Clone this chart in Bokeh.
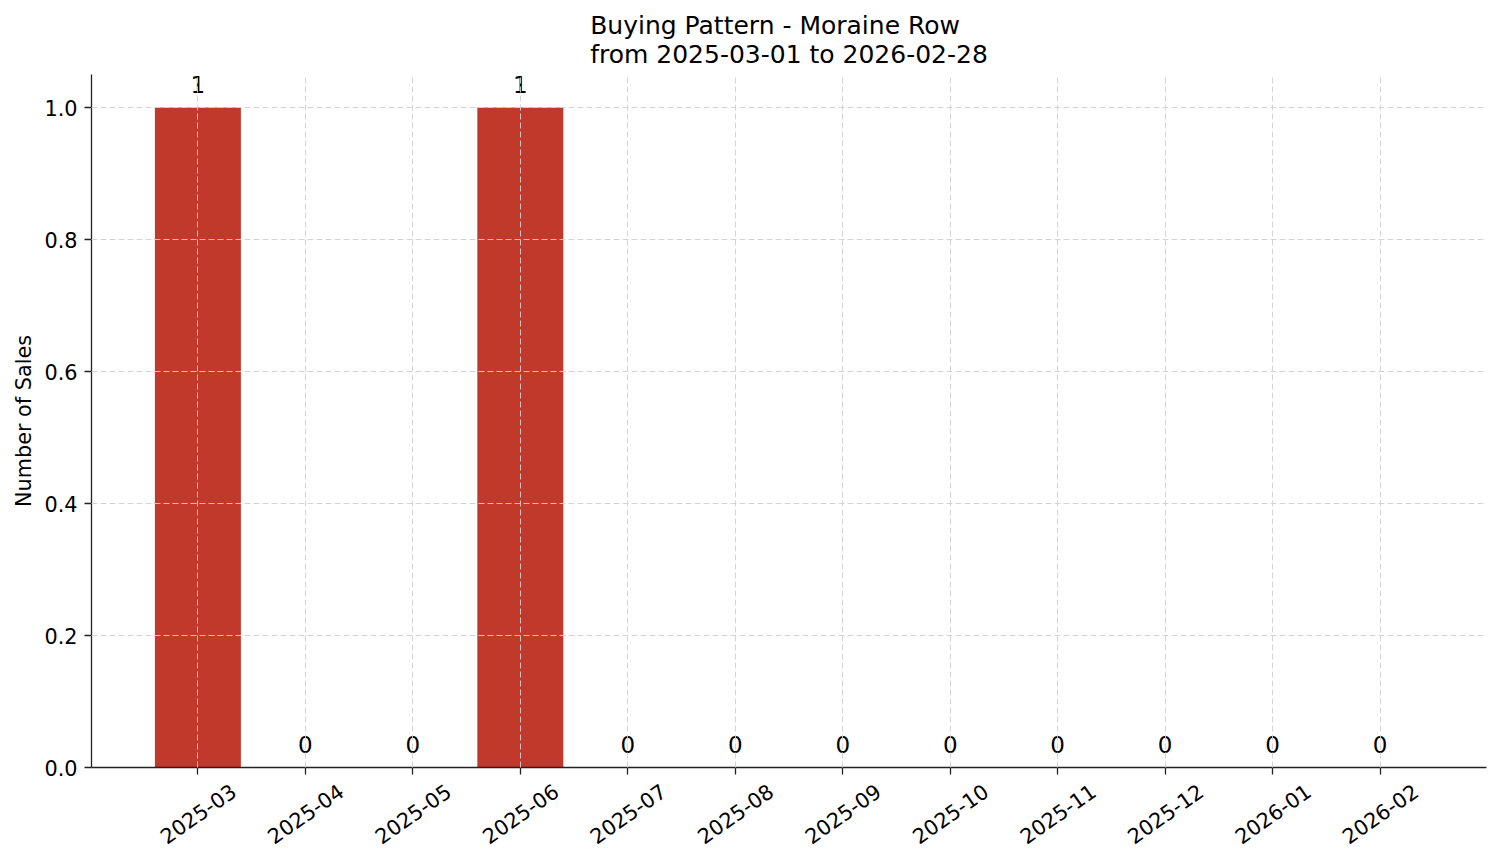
import math
from bokeh.plotting import figure
from bokeh.models import ColumnDataSource, Range1d, FixedTicker, Title, LinearAxis
from bokeh.core.properties import value
from bokeh.embed import file_html
from bokeh.resources import INLINE

months = ["2025-03", "2025-04", "2025-05", "2025-06", "2025-07", "2025-08",
          "2025-09", "2025-10", "2025-11", "2025-12", "2026-01", "2026-02"]
sales = [1, 0, 0, 1, 0, 0, 0, 0, 0, 0, 0, 0]
y_ticks = [0.0, 0.2, 0.4, 0.6, 0.8, 1.0]
title_text = "Buying Pattern - Moraine Row\nfrom 2025-03-01 to 2026-02-28"
y_label = "Number of Sales"

FONT = "DejaVu Sans"
X0, X1 = -0.99, 11.99
Y0, Y1 = 0.0, 1.05
FRAME_W, FRAME_H = 1395, 693
LABEL_PAD = 23 * (Y1 - Y0) / FRAME_H          # gap above bar top
TICK_SHIFT = 35.6 * (X1 - X0) / FRAME_W       # centre rotated labels on ticks

idx = list(range(len(months)))
src = ColumnDataSource(dict(x=idx, top=sales,
                            ly=[v + LABEL_PAD for v in sales],
                            label=[str(v) for v in sales]))

p = figure(width=1495, height=857, output_backend="svg", toolbar_location=None,
           x_range=Range1d(X0, X1), y_range=Range1d(Y0, Y1),
           min_border_left=91, min_border_right=9, min_border_top=74,
           min_border_bottom=90)
p.title = Title(text=title_text, align="center", text_font=FONT,
                text_font_size="25px", text_font_style="normal",
                text_color="#000000", standoff=12, text_line_height=1.0)

p.vbar(x="x", top="top", width=0.8, bottom=0, source=src,
       fill_color="#c0392b", line_color=None)

p.text(x="x", y="ly", text="label", source=src, text_align="center",
       text_baseline="alphabetic",
       text_font=value(FONT), text_font_size="23px", text_color="#000000")

# main x axis: line + tick marks only (ticks drawn as minor ticks, no labels)
xa = p.below[0]
xa.ticker = FixedTicker(ticks=[], minor_ticks=idx)
xa.major_label_standoff = 0
xa.axis_line_color = "#222222"
xa.axis_line_width = 1.3
xa.major_tick_line_color = None
xa.minor_tick_line_color = "#222222"
xa.minor_tick_line_width = 1.3
xa.minor_tick_out = 7
xa.minor_tick_in = 0

# label axis: shifted so rotated labels are centred on the ticks
p.extra_x_ranges = {"lab": Range1d(X0 - TICK_SHIFT, X1 - TICK_SHIFT)}
xl = LinearAxis(x_range_name="lab", ticker=FixedTicker(ticks=idx),
                major_label_overrides={i: m for i, m in enumerate(months)},
                major_label_orientation=math.radians(35),
                axis_line_color=None, major_tick_line_color=None,
                minor_tick_line_color=None,
                major_label_text_font=FONT, major_label_text_font_size="20.8px",
                major_label_text_color="#000000", major_label_standoff=8)
p.add_layout(xl, "below")

ya = p.left[0]
ya.ticker = FixedTicker(ticks=y_ticks)
ya.major_label_overrides = {t: f"{t:.1f}" for t in y_ticks}
ya.axis_label = y_label
ya.axis_line_color = "#222222"
ya.axis_line_width = 1.3
ya.major_tick_line_color = "#222222"
ya.major_tick_line_width = 1.3
ya.major_tick_out = 7
ya.major_tick_in = 0
ya.minor_tick_line_color = None
ya.major_label_text_font = FONT
ya.major_label_text_font_size = "20.8px"
ya.major_label_text_color = "#000000"
ya.axis_label_text_font = FONT
ya.axis_label_text_font_size = "20.8px"
ya.axis_label_text_font_style = "normal"
ya.axis_label_text_color = "#000000"
ya.major_label_standoff = 7
ya.axis_label_standoff = 5

p.xgrid.ticker = FixedTicker(ticks=idx)
p.grid.grid_line_color = "#d0d0d0"
p.grid.grid_line_dash = "6 3"
p.grid.grid_line_width = 1
p.grid.grid_line_alpha = 0.9
p.grid.level = "overlay"
p.outline_line_color = None
p.background_fill_color = "#ffffff"
p.border_fill_color = "#ffffff"

open("out.html", "w").write(file_html(p, INLINE))
